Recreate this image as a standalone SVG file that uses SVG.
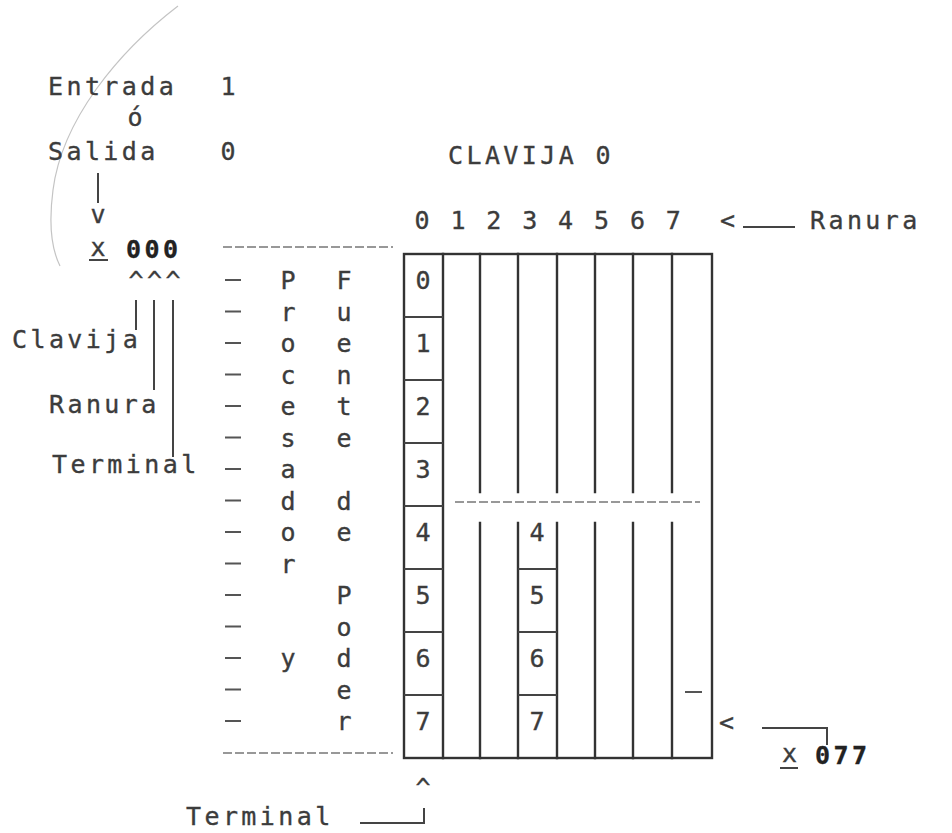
<svg xmlns="http://www.w3.org/2000/svg" width="952" height="833" viewBox="0 0 952 833">
<style>
  text { font-family: "DejaVu Sans Mono", "Liberation Mono", monospace; font-size: 25px; fill: #3c3c3c; letter-spacing: 3.4px; stroke: #3c3c3c; stroke-width: 0.35px; }
  .b { font-weight: bold; fill: #222; stroke: #222; }
  .ln { stroke: #333; stroke-width: 2.4; fill: none; stroke-linecap: square; }
  .thin { stroke: #444; stroke-width: 2; fill: none; }
  .dash { stroke: #777; stroke-width: 1.6; fill: none; stroke-dasharray: 9 3; }
  .mk { stroke: #555; stroke-width: 2; fill: none; }
</style>
<rect width="952" height="833" fill="#ffffff"/>

<!-- faint scan arc -->
<path d="M178,6 C118,52 62,120 53,190 C48,228 52,250 60,266" stroke="#c4c4c4" stroke-width="1.2" fill="none"/>

<!-- legend top-left -->
<g id="legend">
  <text x="48" y="95">Entrada</text>
  <text x="220.5" y="95">1</text>
  <text x="127.5" y="126">ó</text>
  <text x="48" y="160">Salida</text>
  <text x="220.5" y="160">0</text>
  <text x="90.5" y="223">v</text>
  <text x="90.5" y="256">x</text>
  <text class="b" x="126" y="258">000</text>
  <text x="128.5" y="289">^^^</text>
  <text x="12" y="348">Clavija</text>
  <text x="49" y="413">Ranura</text>
  <text x="52" y="473">Terminal</text>
</g>

<!-- processor / power supply column -->
<g id="procesador">
  <path class="dash" d="M223,247 H393 M223,753 H393"/>
  <path class="mk" d="M225,280 h16 M225,311.5 h16 M225,343 h16 M225,374.5 h16 M225,406 h16 M225,437.5 h16 M225,469 h16 M225,500.5 h16 M225,532 h16 M225,563.5 h16 M225,595 h16 M225,626.5 h16 M225,658 h16 M225,689.5 h16 M225,721 h16"/>
  <text><tspan x="280.5" y="289">P</tspan><tspan x="280.5" y="320.5">r</tspan><tspan x="280.5" y="352">o</tspan><tspan x="280.5" y="383.5">c</tspan><tspan x="280.5" y="415">e</tspan><tspan x="280.5" y="446.5">s</tspan><tspan x="280.5" y="478">a</tspan><tspan x="280.5" y="509.5">d</tspan><tspan x="280.5" y="541">o</tspan><tspan x="280.5" y="572.5">r</tspan><tspan x="280.5" y="667">y</tspan></text>
  <text><tspan x="336.5" y="289">F</tspan><tspan x="336.5" y="320.5">u</tspan><tspan x="336.5" y="352">e</tspan><tspan x="336.5" y="383.5">n</tspan><tspan x="336.5" y="415">t</tspan><tspan x="336.5" y="446.5">e</tspan><tspan x="336.5" y="509.5">d</tspan><tspan x="336.5" y="541">e</tspan><tspan x="336.5" y="604">P</tspan><tspan x="336.5" y="635.5">o</tspan><tspan x="336.5" y="667">d</tspan><tspan x="336.5" y="698.5">e</tspan><tspan x="336.5" y="730">r</tspan></text>
</g>

<!-- rack header -->
<g id="header">
  <text x="448" y="164">CLAVIJA 0</text>
  <text x="414.5" y="229" style="letter-spacing:2.9px">0 1 2 3 4 5 6 7</text>
  <text x="720" y="229">&lt;</text>
  <text x="810" y="229">Ranura</text>
</g>

<!-- rack -->
<g id="rack">
  <rect class="ln" x="404" y="254" width="308" height="504"/>
  <path class="ln" d="M443,254 V758"/>
  <path class="ln" d="M480,254 V492 M518,254 V492 M557,254 V492 M595,254 V492 M633,254 V492 M672,254 V492"/>
  <path class="ln" d="M480,523 V758 M518,523 V758 M557,523 V758 M595,523 V758 M633,523 V758 M672,523 V758"/>
  <path class="dash" d="M455,502 H700"/>
  <path class="thin" d="M404,317 H443 M404,380 H443 M404,443 H443 M404,506 H443 M404,569 H443 M404,632 H443 M404,695 H443"/>
  <path class="thin" d="M518,569 H557 M518,632 H557 M518,695 H557"/>
  <path class="mk" d="M685,692 H702"/>
</g>

<g id="slot0">
  <text x="415.5" y="289">0</text>
  <text x="415.5" y="352">1</text>
  <text x="415.5" y="415">2</text>
  <text x="415.5" y="478">3</text>
  <text x="415.5" y="541">4</text>
  <text x="415.5" y="604">5</text>
  <text x="415.5" y="667">6</text>
  <text x="415.5" y="730">7</text>
</g>

<g id="slot3">
  <text x="529.5" y="541">4</text>
  <text x="529.5" y="604">5</text>
  <text x="529.5" y="667">6</text>
  <text x="529.5" y="730">7</text>
</g>

<g id="bottom-labels">
  <text x="415.5" y="796">^</text>
  <text x="186" y="825">Terminal</text>
  <text x="719" y="731">&lt;</text>
  <text x="782" y="762">x</text>
  <text class="b" x="815" y="764">077</text>
</g>

<!-- connectors -->
<g id="connectors">
  <path class="thin" d="M98,173 V203"/>
  <path class="thin" d="M89,260 H108"/>
  <path class="thin" d="M136,300 V330 M154,300 V390 M173,300 V457"/>
  <path class="thin" d="M743,227 H795"/>
  <path class="thin" d="M360,823 H424 V808"/>
  <path class="thin" d="M762,728 H827 V745"/>
  <path class="thin" d="M780,768 H798"/>
</g>
</svg>
